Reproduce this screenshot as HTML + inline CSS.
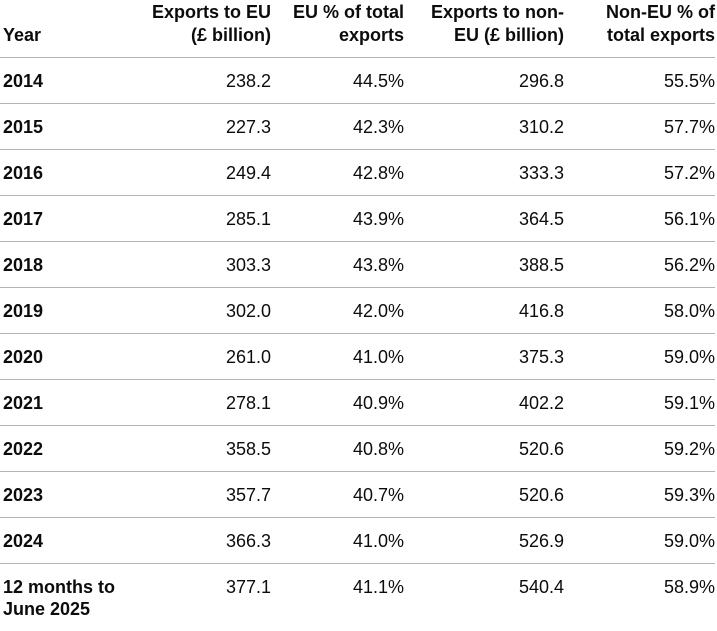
<!DOCTYPE html>
<html><head><meta charset="utf-8"><style>
body{margin:0;width:717px;height:631px;background:#fff;font-family:"Liberation Sans",Arial,sans-serif;color:#0b0c0c;position:relative;overflow:hidden}
.t{position:absolute;font-size:18px;line-height:22px;white-space:nowrap}
.b{font-weight:bold}
.r{text-align:right}
.hl{position:absolute;left:0;width:715px;height:1px;background:#b1b4b6}
</style></head><body>
<div id="tbl"></div>
<script>
const years=["2014","2015","2016","2017","2018","2019","2020","2021","2022","2023","2024","12 months to|June 2025"];
const euExports=["238.2","227.3","249.4","285.1","303.3","302.0","261.0","278.1","358.5","357.7","366.3","377.1"];
const euPct=["44.5%","42.3%","42.8%","43.9%","43.8%","42.0%","41.0%","40.9%","40.8%","40.7%","41.0%","41.1%"];
const nonEuExports=["296.8","310.2","333.3","364.5","388.5","416.8","375.3","402.2","520.6","520.6","526.9","540.4"];
const nonEuPct=["55.5%","57.7%","57.2%","56.1%","56.2%","58.0%","59.0%","59.1%","59.2%","59.3%","59.0%","58.9%"];
const headers=[["Year"],["Exports to EU","(£ billion)"],["EU % of total","exports"],["Exports to non-","EU (£ billion)"],["Non-EU % of","total exports"]];
const rights=[null,271,404,564,715];
const root=document.getElementById('tbl');
function txt(s,x,y,cls,right,name){
  const d=document.createElement('div');
  d.className='t '+cls;
  d.textContent=s;
  if(right){d.style.right=(717-right)+'px';d.style.textAlign='right';}else d.style.left=x+'px';
  d.style.top=y+'px';
  
  
  root.appendChild(d);
}
headers.forEach((h,i)=>{
  if(h.length===1){txt(h[0],3,24,'b',i?rights[i]:null,'header-year');}
  else{h.forEach((l,k)=>txt(l,0,1+k*23,'b',rights[i],'header-col-'+i));}
});
function line(y){
  const d=document.createElement('div');d.className='hl';d.style.top=y+'px';
  
  
  root.appendChild(d);
}
line(57);
years.forEach((y,i)=>{
  const top=57+i*46;
  const ty=top+13;
  const parts=y.split('|');
  if(parts.length>1){parts.forEach((p,k)=>txt(p,3,ty+k*22,'b',null,'year-label'));}
  else txt(y,3,ty,'b',null,'year-label');
  txt(euExports[i],0,ty,'',rights[1],'eu-exports-value');
  txt(euPct[i],0,ty,'',rights[2],'eu-pct-value');
  txt(nonEuExports[i],0,ty,'',rights[3],'non-eu-exports-value');
  txt(nonEuPct[i],0,ty,'',rights[4],'non-eu-pct-value');
  if(i<years.length-1) line(top+46);
});
</script>
</body></html>
